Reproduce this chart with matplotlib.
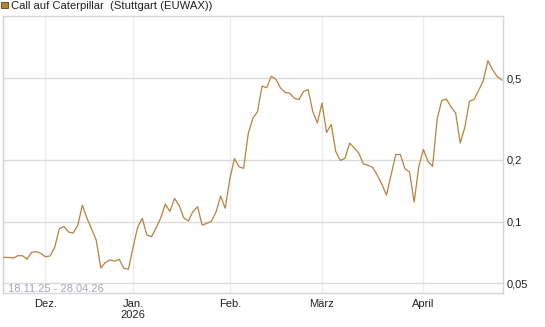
import matplotlib
matplotlib.use("Agg")
import matplotlib.pyplot as plt
import numpy as np
import pandas as pd
from matplotlib.ticker import FixedLocator, NullLocator
from matplotlib.patches import Rectangle

plt.rcParams['font.family'] = ['Liberation Sans', 'DejaVu Sans']

# ---------------- data ----------------
title = "Call auf Caterpillar  (Stuttgart (EUWAX))"
range_label = "18.11.25 - 28.04.26"
start_date = "2025-11-18"
end_date = "2026-04-28"
holidays = ["2025-12-24", "2025-12-25", "2025-12-26", "2025-12-31",
            "2026-01-01", "2026-04-03", "2026-04-06"]

prices = [
    0.0669, 0.0669, 0.0664, 0.0682, 0.0682, 0.0656, 0.0708, 0.0714, 0.0700, 0.0674,
    0.0680, 0.0749, 0.0923, 0.0948, 0.0890, 0.0880, 0.0959, 0.1204, 0.1038, 0.0920,
    0.0815, 0.0594, 0.0632, 0.0650, 0.0641, 0.0655, 0.0592, 0.0586, 0.0748, 0.0940,
    0.1037, 0.0860, 0.0844, 0.0933, 0.1040, 0.1218, 0.1121, 0.1299, 0.1199, 0.1045,
    0.1007, 0.1120, 0.1182, 0.0961, 0.0981, 0.1004, 0.1114, 0.1333, 0.1162, 0.1614,
    0.2031, 0.1852, 0.1820, 0.2690, 0.3195, 0.3436, 0.4586, 0.4499, 0.5119, 0.4950,
    0.4489, 0.4273, 0.4225, 0.3996, 0.3942, 0.4316, 0.4409, 0.3440, 0.3030, 0.3789,
    0.2723, 0.2979, 0.2194, 0.1986, 0.2040, 0.2415, 0.2286, 0.2154, 0.1910, 0.1882,
    0.1840, 0.1684, 0.1521, 0.1348, 0.1692, 0.2125, 0.2125, 0.1811, 0.1745, 0.1245,
    0.1852, 0.2250, 0.1966, 0.1860, 0.3180, 0.3902, 0.3963, 0.3626, 0.3386, 0.2418,
    0.2884, 0.3866, 0.3942, 0.4370, 0.4872, 0.6094, 0.5519, 0.5108, 0.4905,
]

month_labels = ["Dez.", "Jan.\n2026", "Feb.", "März", "April"]
y_ticks = [0.05, 0.1, 0.2, 0.5]
y_tick_labels = ["0,05", "0,1", "0,2", "0,5"]

# ---------------- trading-day axis ----------------
dates = pd.bdate_range(start_date, end_date)
dates = dates[~dates.isin(pd.to_datetime(holidays))]
n = min(len(dates), len(prices))
dates = dates[:n]
prices = prices[:n]
x = np.arange(n)
periods = dates.to_period("M")
month_pos = list(np.where(periods[1:] != periods[:-1])[0] + 1)

# ---------------- figure ----------------
W, H = 545, 327
fig = plt.figure(figsize=(W / 100, H / 100), dpi=100)
ax = fig.add_axes([3 / W, 34 / H, 500 / W, 277 / H])

line_color = "#b5843c"
ax.plot(x, prices, color=line_color, lw=0.9, solid_joinstyle="round", zorder=3)

ax.set_yscale("log")
ax.set_xlim(-0.22, n - 1 + 0.28)
ax.set_ylim(0.04486, 1.007)

ax.yaxis.set_major_locator(FixedLocator(y_ticks))
ax.yaxis.set_minor_locator(NullLocator())
ax.set_yticklabels(y_tick_labels)
ax.yaxis.tick_right()
ax.tick_params(axis="y", length=0, pad=2.5, labelsize=8, colors="#222222")

ax.set_xticks(month_pos)
ax.set_xticklabels(month_labels, linespacing=1.15)
ax.xaxis.set_minor_locator(NullLocator())
ax.tick_params(axis="x", length=0, pad=4, labelsize=8, colors="#222222")

ax.grid(axis="y", color="#dcdcdc", lw=1.0, zorder=1)
ax.grid(axis="x", color="#ededed", lw=1.0, zorder=1)
ax.set_axisbelow(True)

for side in ["left", "right", "top", "bottom"]:
    ax.spines[side].set_color("#d6d6d6")
    ax.spines[side].set_linewidth(1.0)
ax.spines["left"].set_color("#cfcfcf")

ax.text((8.3 - 3) / 500, (293 - 288.7) / 277, range_label, transform=ax.transAxes,
        ha="left", va="center", fontsize=8, color="#a0a8b6", zorder=4)

# legend marker + title
fig.patches.append(Rectangle((1.2 / W, 1 - 8.2 / H), 6.4 / W, 6.2 / H, transform=fig.transFigure,
                             facecolor=line_color, edgecolor="#5a4020", lw=0.6))
fig.text(11 / W, 1 - 6.3 / H, title, ha="left", va="center", fontsize=8.1, color="#222222")

fig.savefig("out.png", dpi=100)
